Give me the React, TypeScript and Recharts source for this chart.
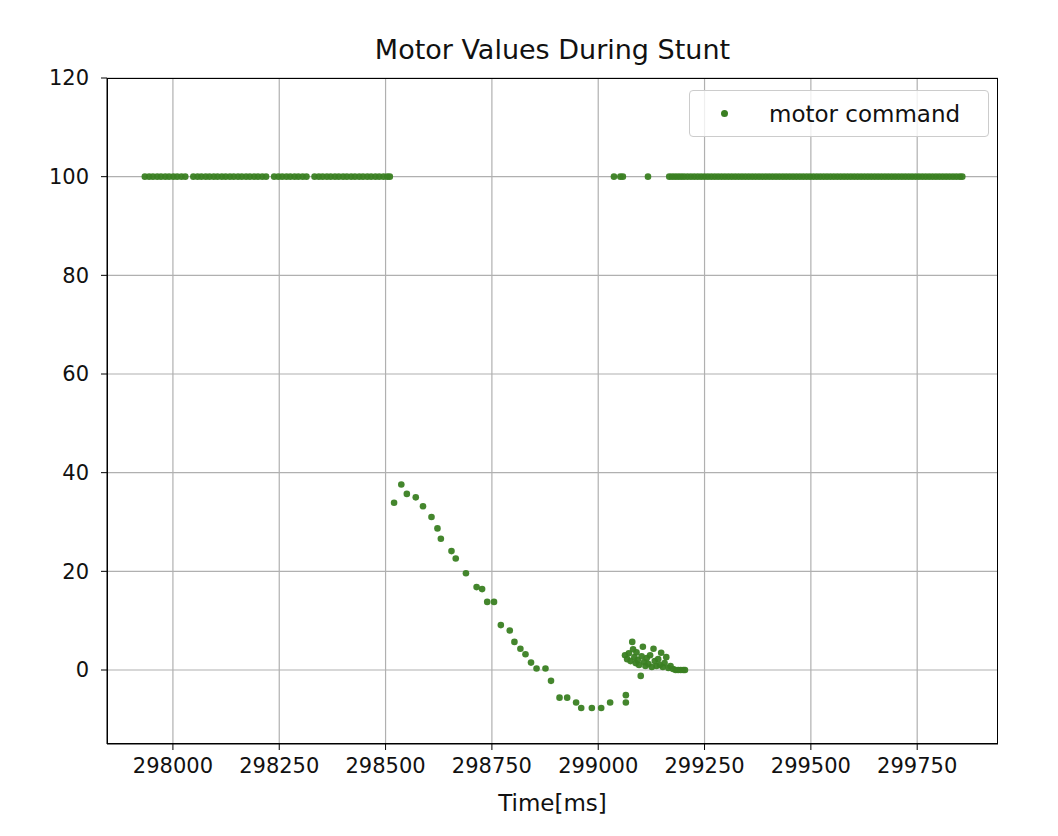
import { ScatterChart, Scatter, XAxis, YAxis, CartesianGrid } from 'recharts';

// motor command readings, time in ms
const highTimesA = [
  297934, 297944, 297953, 297963, 297972, 297982, 297991, 298001, 298010, 298020,
  298029, 298048, 298058, 298067, 298077, 298086, 298096, 298105, 298115, 298124,
  298134, 298143, 298153, 298162, 298172, 298181, 298191, 298200, 298210, 298219,
  298238, 298248, 298257, 298267, 298276, 298286, 298295, 298305, 298314, 298333,
  298343, 298352, 298362, 298371, 298381, 298390, 298400, 298409, 298419, 298428,
  298438, 298447, 298457, 298466, 298476, 298485, 298495, 298504, 298510,
];
const highTimesB = [
  299037, 299052, 299058, 299117,
  299167, 299174, 299181, 299188, 299195, 299202, 299210, 299218, 299226, 299234,
  299242, 299250, 299258, 299266, 299274, 299282, 299290, 299298, 299306, 299314,
  299322, 299330, 299338, 299346, 299354, 299362, 299370, 299378, 299386, 299394,
  299402, 299410, 299418, 299426, 299434, 299442, 299450, 299458, 299466, 299474,
  299482, 299490, 299498, 299506, 299514, 299522, 299530, 299538, 299546, 299554,
  299562, 299570, 299578, 299586, 299594, 299602, 299610, 299618, 299626, 299634,
  299642, 299650, 299658, 299666, 299674, 299682, 299690, 299698, 299706, 299714,
  299722, 299730, 299738, 299746, 299754, 299762, 299770, 299778, 299786, 299794,
  299802, 299810, 299818, 299826, 299834, 299842, 299850, 299856,
];
const dipTimes = [
  298520, 298537, 298550, 298571, 298588, 298608, 298622, 298630, 298655, 298665,
  298689, 298714, 298727, 298739, 298755, 298771, 298792, 298803, 298817, 298829,
  298842, 298855, 298876, 298889, 298909, 298927, 298948, 298960, 298985, 299007,
  299028, 299065, 299065,
];
const dipValues = [
  33.9, 37.6, 35.7, 35.0, 33.2, 31.0, 28.7, 26.6, 24.1, 22.6,
  19.6, 16.8, 16.4, 13.8, 13.8, 9.1, 8.0, 5.7, 4.3, 3.2,
  1.5, 0.3, 0.3, -2.2, -5.6, -5.6, -6.6, -7.7, -7.7, -7.7,
  -6.6, -5.1, -6.6,
];
const clusterTimes = [
  299063, 299068, 299072, 299076, 299080, 299082, 299085, 299088, 299090, 299093,
  299096, 299100, 299102, 299105, 299108, 299111, 299114, 299118, 299122, 299126,
  299130, 299133, 299137, 299141, 299145, 299148, 299152, 299156, 299160, 299165,
  299170, 299176, 299182, 299188, 299194, 299200, 299204,
];
const clusterValues = [
  3.0, 2.2, 3.4, 1.8, 5.7, 4.2, 2.6, 1.4, 3.6, 2.0,
  1.0, -1.2, 2.8, 4.7, 1.6, 0.8, 2.4, 1.2, 3.0, 0.6,
  4.3, 1.8, 0.8, 2.2, 1.0, 3.5, 0.6, 1.4, 2.6, 0.4,
  0.8, 0.2, 0.0, 0.0, 0.0, 0.0, 0.0,
];

const xTicks = [298000, 298250, 298500, 298750, 299000, 299250, 299500, 299750];
const yTicks = [0, 20, 40, 60, 80, 100, 120];

const data = [
  ...highTimesA.map((t) => ({ t, v: 100 })),
  ...dipTimes.map((t, i) => ({ t, v: dipValues[i] })),
  ...highTimesB.map((t) => ({ t, v: 100 })),
  ...clusterTimes.map((t, i) => ({ t, v: clusterValues[i] })),
];

const GREEN = '#3a7f22';
const FONT = 'DejaVu Sans, sans-serif';

const Dot = (props: any) => (
  <circle cx={props.cx} cy={props.cy} r={3.3} fill={GREEN} fillOpacity={0.95} />
);

export default function App() {
  return (
    <div style={{ position: 'relative', width: 1042, height: 820, fontFamily: FONT, background: '#fff' }}>
      <div style={{ position: 'absolute', left: 99, width: 891, top: 26, textAlign: 'center', fontSize: 27, color: '#111' }}>
        Motor Values During Stunt
      </div>
      <ScatterChart width={1042} height={820} margin={{ top: 70, right: 52, bottom: 44, left: 9 }}>
        <CartesianGrid stroke="#b0b0b0" strokeWidth={1.2} horizontalValues={yTicks} verticalValues={xTicks} />
        <XAxis
          type="number"
          dataKey="t"
          domain={[297845, 299940]}
          ticks={xTicks}
          allowDataOverflow
          height={40}
          stroke="#000"
          tickSize={6}
          tickMargin={8}
          tick={{ fill: '#111', fontSize: 21, fontFamily: FONT }}
        />
        <YAxis
          type="number"
          dataKey="v"
          domain={[-15, 120]}
          ticks={yTicks}
          allowDataOverflow
          width={90}
          stroke="#000"
          tickSize={6}
          tickMargin={12}
          tick={{ fill: '#111', fontSize: 21, fontFamily: FONT }}
        />
        <Scatter data={data} shape={Dot} isAnimationActive={false} />
      </ScatterChart>
      <div style={{ position: 'absolute', left: 99, top: 70, width: 891, height: 666, border: '1px solid #000', boxSizing: 'border-box', pointerEvents: 'none' }} />
      <div style={{ position: 'absolute', left: 681, top: 82, width: 298, height: 45, border: '1px solid #ccc', borderRadius: 4, background: 'rgba(255,255,255,0.8)', display: 'flex', alignItems: 'center', fontSize: 23, color: '#111' }}>
        <span style={{ display: 'inline-block', width: 7, height: 7, borderRadius: 4, background: GREEN, marginLeft: 31, marginRight: 41 }} />
        motor command
      </div>
      <div style={{ position: 'absolute', left: 99, width: 891, top: 782, textAlign: 'center', fontSize: 23, color: '#111' }}>
        Time[ms]
      </div>
    </div>
  );
}
